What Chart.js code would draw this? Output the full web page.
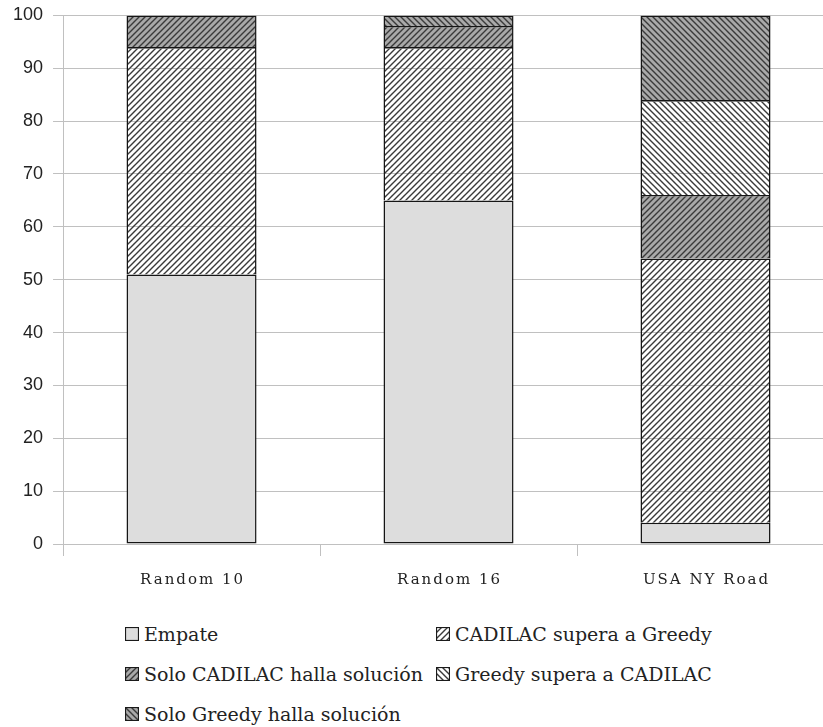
<!DOCTYPE html>
<html>
<head>
<meta charset="utf-8">
<script src="https://cdn.jsdelivr.net/npm/chart.js@4.4.1/dist/chart.umd.min.js"></script>
<style>
  html, body { margin: 0; padding: 0; background: #ffffff; overflow: hidden; width: 823px; height: 727px; }
  #wrap { position: relative; width: 823px; height: 727px; }
  #c { position: absolute; left: 0; top: 0; }
  .lg { position: absolute; display: flex; align-items: center; height: 40px;
        font-family: "DejaVu Serif", serif; font-size: 19px; color: #222; white-space: nowrap; }
  .lg canvas { display: block; margin-right: 5px; }
</style>
</head>
<body>
<div id="wrap">
  <canvas id="c" width="834" height="600"></canvas>
  <div id="legend"></div>
</div>
<script>
// ---- data ----
const categories = ["Random 10", "Random 16", "USA NY Road"];
const seriesNames = ["Empate", "CADILAC supera a Greedy", "Solo CADILAC halla solución", "Greedy supera a CADILAC", "Solo Greedy halla solución"];
const empate        = [51, 65, 4];
const cadilacSupera = [43, 29, 50];
const soloCadilac   = [6, 4, 12];
const greedySupera  = [0, 0, 18];
const soloGreedy    = [0, 2, 16];
const yTicks = [0, 10, 20, 30, 40, 50, 60, 70, 80, 90, 100];

// ---- patterns ----
function hatchTile(bg, dir, size) {
  const c = document.createElement('canvas');
  c.width = c.height = size;
  const x = c.getContext('2d');
  if (bg) { x.fillStyle = bg; x.fillRect(0, 0, size, size); }
  x.strokeStyle = '#3a3a3a';
  x.lineWidth = 1.4;
  x.beginPath();
  if (dir === '/') {
    x.moveTo(0, size); x.lineTo(size, 0);
    x.moveTo(-1, 1); x.lineTo(1, -1);
    x.moveTo(size - 1, size + 1); x.lineTo(size + 1, size - 1);
  } else {
    x.moveTo(0, 0); x.lineTo(size, size);
    x.moveTo(-1, size - 1); x.lineTo(1, size + 1);
    x.moveTo(size - 1, -1); x.lineTo(size + 1, 1);
  }
  x.stroke();
  return c;
}
const canvas = document.getElementById('c');
const ctx = canvas.getContext('2d');
const styles = [
  { bg: '#dddddd', dir: null },
  { bg: null, dir: '/' },
  { bg: '#a9a9a9', dir: '/' },
  { bg: null, dir: '\\' },
  { bg: '#a9a9a9', dir: '\\' }
];
function fillFor(st, context) {
  if (!st.dir) return st.bg;
  return context.createPattern(hatchTile(st.bg, st.dir, 6), 'repeat');
}

const seriesValues = [empate, cadilacSupera, soloCadilac, greedySupera, soloGreedy];
const datasets = seriesNames.map((name, i) => ({
  label: name,
  data: seriesValues[i],
  backgroundColor: fillFor(styles[i], ctx),
  borderColor: '#151515',
  borderWidth: 1.5,
  borderSkipped: i === 0 ? false : 'start',
  barPercentage: 0.506,
  categoryPercentage: 1.0
}));

// x labels with letter spacing, drawn from the category list at the scale's positions
const xLabelPlugin = {
  id: 'xLabels',
  afterDraw(chart) {
    const s = chart.scales.x;
    const c = chart.ctx;
    c.save();
    c.font = '15px "DejaVu Serif"';
    if ('letterSpacing' in c) c.letterSpacing = '2px';
    c.fillStyle = '#222';
    c.textAlign = 'center';
    c.textBaseline = 'middle';
    categories.forEach((lab, i) => {
      c.fillText(lab, s.getPixelForValue(i) + 1, s.top + 36);
    });
    c.restore();
  }
};

new Chart(ctx, {
  type: 'bar',
  data: { labels: categories, datasets },
  options: {
    responsive: false,
    animation: false,
    devicePixelRatio: 1,
    layout: { padding: { left: 3, top: 4, right: 0, bottom: 44 } },
    plugins: { legend: { display: false }, tooltip: { enabled: false } },
    scales: {
      x: {
        stacked: true,
        grid: { display: true, drawOnChartArea: false, drawTicks: true, tickLength: 12, offset: true, color: '#c0c0c0', lineWidth: 1 },
        border: { display: true, color: '#c0c0c0' },
        ticks: { display: false }
      },
      y: {
        stacked: true,
        min: 0, max: 100,
        afterBuildTicks(scale) { scale.ticks = yTicks.map(v => ({ value: v })); },
        grid: { color: '#c0c0c0', lineWidth: 1, drawTicks: true, tickLength: 10 },
        border: { display: true, color: '#c0c0c0' },
        ticks: { font: { family: '"Liberation Sans"', size: 18, lineHeight: 0.6 }, color: '#222', padding: 10 }
      }
    }
  },
  plugins: [xLabelPlugin]
});

// ---- legend (HTML) ----
const legend = document.getElementById('legend');
const colLeft = [125, 436];
seriesNames.forEach((name, i) => {
  const item = document.createElement('div');
  item.className = 'lg';
  item.style.left = colLeft[i % 2] + 'px';
  item.style.top = (614 + Math.floor(i / 2) * 40) + 'px';
  const sw = document.createElement('canvas');
  sw.width = 14; sw.height = 14;
  const sc = sw.getContext('2d');
  sc.fillStyle = styles[i].bg || '#fff';
  sc.fillRect(1, 1, 12, 12);
  if (styles[i].dir) {
    sc.fillStyle = sc.createPattern(hatchTile(null, styles[i].dir, 6), 'repeat');
    sc.fillRect(1, 1, 12, 12);
  }
  sc.strokeStyle = '#1a1a1a'; sc.lineWidth = 1.2;
  sc.strokeRect(0.5, 0.5, 13, 13);
  const tx = document.createElement('span');
  tx.textContent = name;
  item.appendChild(sw);
  item.appendChild(tx);
  legend.appendChild(item);
});
</script>
</body>
</html>
